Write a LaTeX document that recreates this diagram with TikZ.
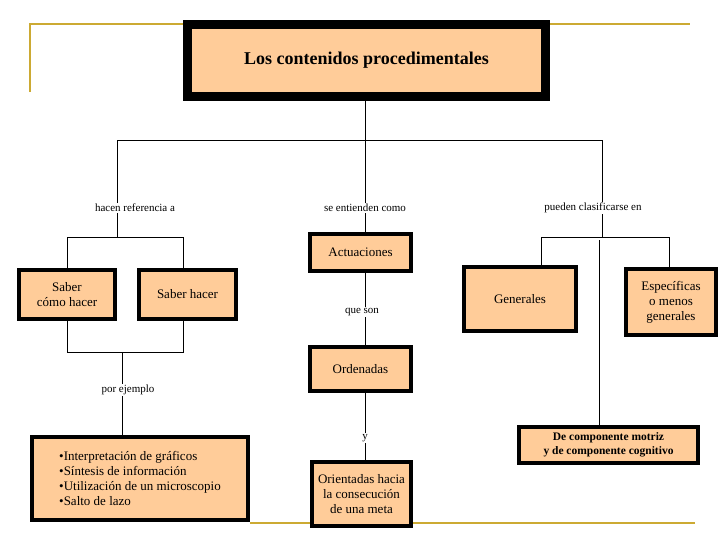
\documentclass[tikz,border=0pt]{standalone}
\usepackage{fontspec}
\setmainfont{Liberation Serif}
\definecolor{BoxClr}{RGB}{255,204,153}
\definecolor{RuleClr}{RGB}{204,170,51}
\tikzset{
  concept/.style={draw=black,fill=BoxClr,line width=4.5pt,align=center,font=\fontsize{13}{15}\selectfont,inner sep=2pt},
  linkword/.style={font=\fontsize{11}{13}\selectfont,inner sep=1pt},
  link/.style={line width=0.6pt}
}
\begin{document}
\begin{tikzpicture}[x=1pt,y=-1pt]
\useasboundingbox (0,0) rectangle (728,546);
% decorative rules
\draw[RuleClr,line width=1.2pt] (30,92) -- (30,24) -- (690,24);
\draw[RuleClr,line width=1.2pt] (250,523) -- (695,523);

% concepts
\node[concept,line width=9pt,minimum width=358,minimum height=72,font=\fontsize{18}{20}\selectfont\bfseries] (title) at (366.5,60.5) {Los contenidos procedimentales};
\node[concept,minimum width=96,minimum height=49] (como) at (67,294.5) {Saber\\cómo hacer};
\node[concept,minimum width=97,minimum height=49] (hacer) at (187.5,294.5) {Saber hacer};
\node[concept,minimum width=216,minimum height=83,align=left] (ejem) at (140,478.5) {•Interpretación de gráficos\\•Síntesis de información\\•Utilización de un microscopio\\•Salto de lazo};
\node[concept,minimum width=101,minimum height=37] (actu) at (360.5,252.5) {Actuaciones};
\node[concept,minimum width=101,minimum height=44] (orde) at (360.5,369) {Ordenadas};
\node[concept,minimum width=99,minimum height=64] (meta) at (361.5,494) {Orientadas hacia\\la consecución\\de una meta};
\node[concept,minimum width=112,minimum height=64] (gene) at (520,299) {Generales};
\node[concept,minimum width=90,minimum height=66] (espe) at (671,302) {Específicas\\o menos\\generales};
\node[concept,minimum width=179,minimum height=36,font=\fontsize{11.5}{14}\selectfont\bfseries] (comp) at (608.5,445) {De componente motriz\\y de componente cognitivo};

% linking words
\node[linkword] (refe) at (135,208) {hacen referencia a};
\node[linkword] (enti) at (365,208) {se entienden como};
\node[linkword] (clas) at (593,208) {pueden clasificarse en};
\node[linkword] (queson) at (362,312) {que son};
\node[linkword] (porej) at (128,390) {por ejemplo};
\node[linkword] (yy) at (365,438) {y};

% connectors
\coordinate (top) at (365,140);
\draw[link] (title.south -| top) -- (top);
\draw[link] (117,140) -- (602,140);
\draw[link] (117,140) -- (refe.north -| 117,0);
\draw[link] (top) -- (enti.north -| top);
\draw[link] (602,140) -- (clas.north -| 602,0);
\draw[link] (refe.south -| 117,0) -- (117,237);
\draw[link] (67,237) -- (183,237);
\draw[link] (67,237) -- (como.north -| 67,0);
\draw[link] (183,237) -- (hacer.north -| 183,0);
\draw[link] (como.south -| 67,0) -- (67,352) -- (183,352) -- (hacer.south -| 183,0);
\draw[link] (122,352) -- (porej.north -| 122,0);
\draw[link] (porej.south -| 122,0) -- (ejem.north -| 122,0);
\draw[link] (enti.south -| top) -- (actu.north -| top);
\draw[link] (actu.south -| top) -- (queson.north -| top);
\draw[link] (queson.south -| top) -- (orde.north -| top);
\draw[link] (orde.south -| top) -- (yy.north -| top);
\draw[link] (yy.south -| top) -- (meta.north -| top);
\draw[link] (clas.south -| 602,0) -- (602,237);
\draw[link] (541,237) -- (669,237);
\draw[link] (541,237) -- (gene.north -| 541,0);
\draw[link] (669,237) -- (espe.north -| 669,0);
\draw[link] (599,240) -- (comp.north -| 599,0);
\end{tikzpicture}
\end{document}
